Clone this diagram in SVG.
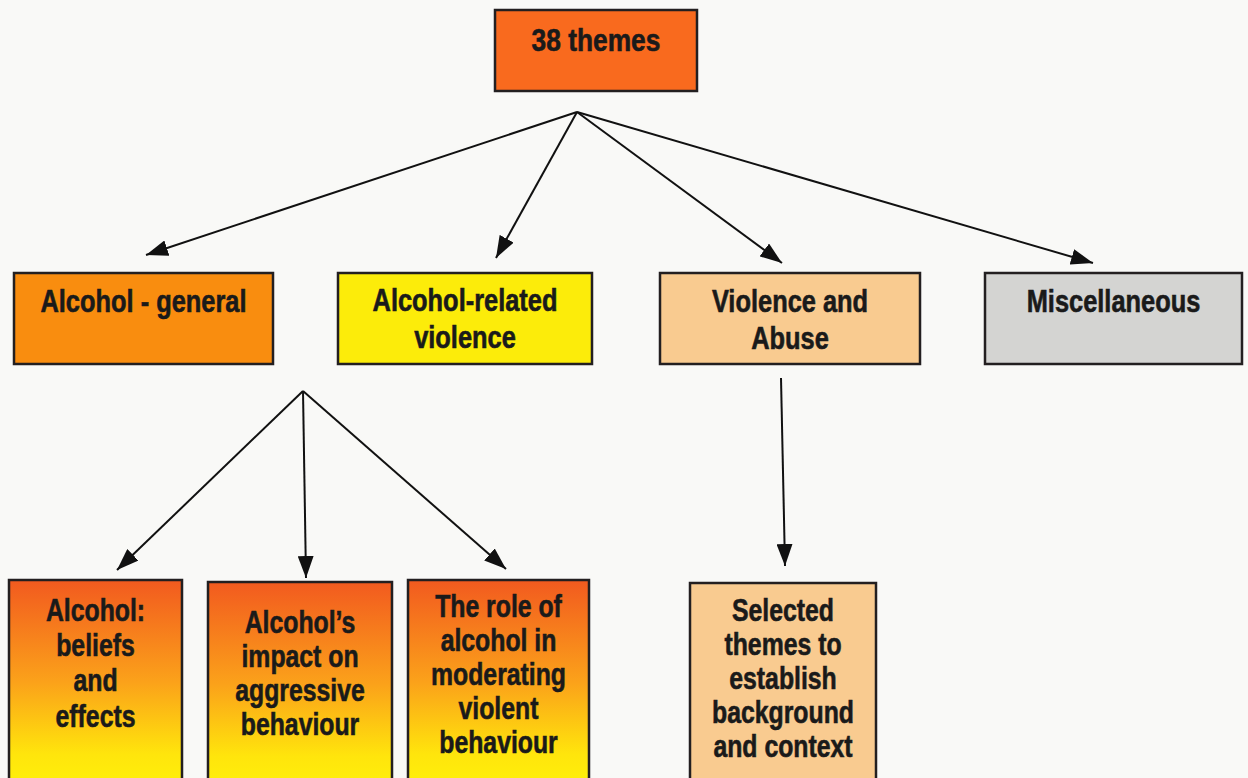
<svg xmlns="http://www.w3.org/2000/svg" width="1248" height="778" viewBox="0 0 1248 778">
<defs>
<style>
.box{stroke:#231f20;stroke-width:2.5}
.t{font-family:"Liberation Sans",Arial,sans-serif;font-weight:bold;font-size:31px;fill:#1a1a1a;stroke:#1a1a1a;stroke-width:0.6;text-anchor:middle}
.c{stroke:#111;stroke-width:2;fill:none}
</style>
<linearGradient id="g" x1="0" y1="0" x2="0" y2="1">
<stop offset="0" stop-color="#f25a1f"/>
<stop offset="0.5" stop-color="#fba21a"/>
<stop offset="0.85" stop-color="#ffe50c"/>
<stop offset="1" stop-color="#fff00a"/>
</linearGradient>
<marker id="a" viewBox="0 0 22 16" refX="22" refY="8" markerWidth="22" markerHeight="16" markerUnits="userSpaceOnUse" orient="auto">
<path d="M0,0 L22,8 L0,16 z" fill="#111"/>
</marker>
</defs>
<rect width="1248" height="778" fill="#f9f9f7"/>
<g id="connectors">
<line class="c" x1="577" y1="112" x2="146" y2="255" marker-end="url(#a)"/>
<line class="c" x1="577" y1="112" x2="496" y2="258" marker-end="url(#a)"/>
<line class="c" x1="577" y1="112" x2="782" y2="263" marker-end="url(#a)"/>
<line class="c" x1="577" y1="112" x2="1093" y2="263" marker-end="url(#a)"/>
<line class="c" x1="303" y1="391" x2="117" y2="570" marker-end="url(#a)"/>
<line class="c" x1="303" y1="391" x2="306" y2="578" marker-end="url(#a)"/>
<line class="c" x1="303" y1="391" x2="506" y2="569" marker-end="url(#a)"/>
<line class="c" x1="781" y1="378" x2="785" y2="566" marker-end="url(#a)"/>
</g>
<g id="n-38themes">
<rect class="box" x="495" y="10" width="202" height="81" fill="#f96a1e"/>
<g transform="translate(596 0) scale(0.85 1)"><text class="t" x="0" y="51">38 themes</text></g>
</g>
<g id="n-alcohol-general">
<rect class="box" x="14" y="273" width="259" height="91" fill="#f98d0f"/>
<g transform="translate(143.5 0) scale(0.82 1)"><text class="t" x="0" y="312">Alcohol - general</text></g>
</g>
<g id="n-alcohol-related">
<rect class="box" x="338" y="273" width="254" height="91" fill="#fcec0a"/>
<g transform="translate(465 0) scale(0.82 1)"><text class="t" x="0" y="311">Alcohol-related</text><text class="t" x="0" y="348">violence</text></g>
</g>
<g id="n-violence">
<rect class="box" x="660" y="273" width="260" height="91" fill="#f9cb90"/>
<g transform="translate(790 0) scale(0.82 1)"><text class="t" x="0" y="312">Violence and</text><text class="t" x="0" y="349">Abuse</text></g>
</g>
<g id="n-misc">
<rect class="box" x="985" y="273" width="257" height="91" fill="#d4d4d2"/>
<g transform="translate(1113.5 0) scale(0.82 1)"><text class="t" x="0" y="312">Miscellaneous</text></g>
</g>
<g id="n-beliefs">
<rect class="box" x="9" y="580" width="173" height="205" fill="url(#g)"/>
<g transform="translate(95.5 0) scale(0.8 1)"><text class="t" x="0" y="621">Alcohol:</text><text class="t" x="0" y="656">beliefs</text><text class="t" x="0" y="691">and</text><text class="t" x="0" y="727">effects</text></g>
</g>
<g id="n-impact">
<rect class="box" x="208" y="582" width="184" height="205" fill="url(#g)"/>
<g transform="translate(300 0) scale(0.8 1)"><text class="t" x="0" y="633">Alcohol’s</text><text class="t" x="0" y="667">impact on</text><text class="t" x="0" y="701">aggressive</text><text class="t" x="0" y="735">behaviour</text></g>
</g>
<g id="n-role">
<rect class="box" x="408" y="580" width="181" height="205" fill="url(#g)"/>
<g transform="translate(498.5 0) scale(0.8 1)"><text class="t" x="0" y="617">The role of</text><text class="t" x="0" y="651">alcohol in</text><text class="t" x="0" y="685">moderating</text><text class="t" x="0" y="719">violent</text><text class="t" x="0" y="753">behaviour</text></g>
</g>
<g id="n-selected">
<rect class="box" x="690" y="583" width="186" height="205" fill="#f9cb90"/>
<g transform="translate(783 0) scale(0.8 1)"><text class="t" x="0" y="621">Selected</text><text class="t" x="0" y="655">themes to</text><text class="t" x="0" y="689">establish</text><text class="t" x="0" y="723">background</text><text class="t" x="0" y="757">and context</text></g>
</g>
</svg>
